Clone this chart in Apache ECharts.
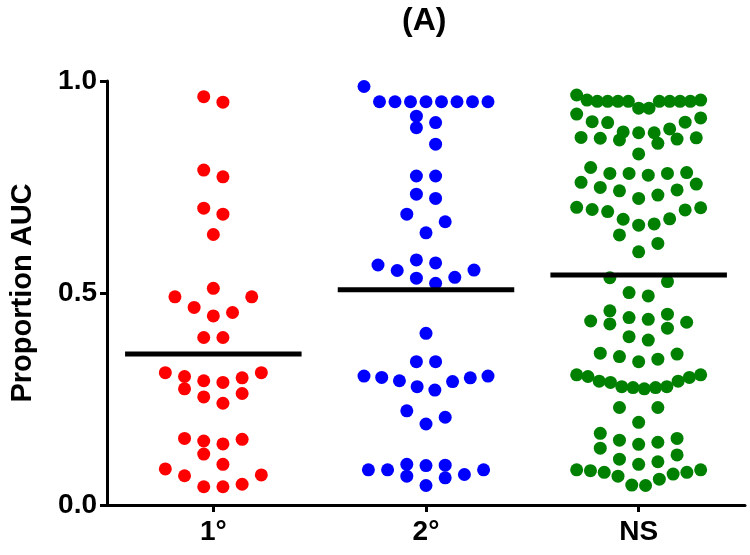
<!DOCTYPE html>
<html>
<head>
<meta charset="utf-8">
<script src="https://cdn.jsdelivr.net/npm/echarts@6/dist/echarts.min.js"></script>
<style>
html, body { margin: 0; padding: 0; background: #ffffff; }
#chart { width: 750px; height: 555px; }
</style>
</head>
<body>
<div id="chart"></div>
<script>
// ---- data ----
const chartTitle = '(A)';
const yAxisName = 'Proportion AUC';
const categories = ['1°', '2°', 'NS'];
const yTicks = [0.0, 0.5, 1.0];

const primaryValues = [0.963, 0.950, 0.790, 0.774, 0.700, 0.686, 0.638, 0.511, 0.491, 0.491,
  0.466, 0.454, 0.446, 0.395, 0.395, 0.312, 0.312, 0.303, 0.300, 0.293, 0.289, 0.274, 0.263,
  0.255, 0.240, 0.157, 0.155, 0.151, 0.144, 0.120, 0.096, 0.085, 0.071, 0.069, 0.049, 0.043, 0.043];

const secondaryValues = [0.987, 0.951, 0.951, 0.951, 0.951, 0.951, 0.951, 0.951, 0.951,
  0.917, 0.902, 0.890, 0.851, 0.776, 0.776, 0.733, 0.723, 0.686, 0.668, 0.642,
  0.578, 0.571, 0.566, 0.554, 0.553, 0.537, 0.535, 0.523, 0.405, 0.338, 0.338,
  0.304, 0.304, 0.301, 0.300, 0.293, 0.291, 0.279, 0.271, 0.222, 0.207, 0.191,
  0.096, 0.094, 0.093, 0.083, 0.083, 0.083, 0.072, 0.068, 0.064, 0.046];

const nsValues = [0.967, 0.955, 0.955, 0.952, 0.952, 0.952, 0.952, 0.952, 0.952, 0.952, 0.952, 0.936, 0.936, 0.922,
  0.913, 0.904, 0.903, 0.902, 0.887, 0.880, 0.878, 0.878, 0.867, 0.866, 0.865, 0.863, 0.861, 0.853, 0.828,
  0.796, 0.784, 0.782, 0.782, 0.782, 0.778, 0.761, 0.757, 0.749, 0.743, 0.741, 0.731, 0.723,
  0.702, 0.701, 0.697, 0.696, 0.692, 0.675, 0.674, 0.663, 0.660, 0.637, 0.617, 0.597,
  0.536, 0.527, 0.501, 0.493,
  0.458, 0.450, 0.442, 0.438, 0.434, 0.431, 0.427, 0.417, 0.397, 0.389,
  0.358, 0.356, 0.350, 0.344, 0.338, 0.307, 0.307,
  0.303, 0.301, 0.292, 0.292, 0.289, 0.279, 0.279, 0.277, 0.277, 0.274,
  0.230, 0.230, 0.195, 0.169, 0.157, 0.153, 0.148, 0.143, 0.134,
  0.118, 0.108, 0.102, 0.096, 0.083, 0.083, 0.081, 0.077, 0.077, 0.073, 0.068, 0.061, 0.047, 0.046];

// ---- styling / layout ----
const groups = [primaryValues, secondaryValues, nsValues];
const colors = ['#ff0000', '#0000ff', '#008000'];
const FONT = "'Liberation Sans', Arial, Helvetica, sans-serif";
const DOT = 13;          // dot diameter (px)
const ROW_H = 19.6;      // vertical extent of one swarm row (px)
const STEP = 19.2;       // horizontal spacing of dots in a row (px)
const HALF_W = 62;       // max half width of a swarm (px)
const MEAN_HALF = 0.415; // half length of mean bar (category units)

const chart = echarts.init(document.getElementById('chart'), null, { renderer: 'canvas' });

const baseOption = {
  animation: false,
  backgroundColor: '#ffffff',
  grid: { left: 105, right: 5, top: 81, bottom: 50, containLabel: false },
  graphic: [{
    type: 'text', left: 402, top: 5,
    style: { text: chartTitle, font: 'bold 32px ' + FONT, fill: '#000' }
  }],
  xAxis: [{
    type: 'category', data: categories, boundaryGap: true,
    axisLine: { show: true, lineStyle: { color: '#000', width: 3 } },
    axisTick: { show: true, alignWithLabel: true, length: 7, lineStyle: { color: '#000', width: 3 } },
    axisLabel: { color: '#000', fontWeight: 'bold', fontSize: 28, fontFamily: FONT, margin: 13 },
    splitLine: { show: false }
  }, {
    type: 'value', min: 0.5, max: 3.5, show: false
  }],
  yAxis: [{
    type: 'value', min: yTicks[0], max: yTicks[yTicks.length - 1], interval: yTicks[1] - yTicks[0],
    name: yAxisName, nameLocation: 'middle', nameGap: 70,
    nameTextStyle: { color: '#000', fontWeight: 'bold', fontSize: 29, fontFamily: FONT },
    axisLine: { show: true, lineStyle: { color: '#000', width: 3 } },
    axisTick: { show: true, length: 7, lineStyle: { color: '#000', width: 3 } },
    axisLabel: { color: '#000', fontWeight: 'bold', fontSize: 28, fontFamily: FONT, margin: 10,
      formatter: v => v.toFixed(1) },
    splitLine: { show: false }
  }],
  series: []
};
chart.setOption(baseOption);

// Beeswarm layout (rows of nearby values spread symmetrically around the column centre)
const pxPerUnit = chart.convertToPixel({ xAxisIndex: 1 }, 2) - chart.convertToPixel({ xAxisIndex: 1 }, 1);
function swarm(values, center) {
  const pts = values.map(v => ({ v, py: chart.convertToPixel({ yAxisIndex: 0 }, v) }))
    .sort((a, b) => a.v - b.v);
  const out = [];
  let i = 0;
  while (i < pts.length) {
    let j = i;
    while (j < pts.length && pts[i].py - pts[j].py <= ROW_H) j++;
    const row = pts.slice(i, j);
    const n = row.length;
    const s = n > 1 ? Math.min(STEP, 2 * HALF_W / (n - 1)) : 0;
    row.forEach((p, k) => {
      let slot;
      if (n % 2) slot = k === 0 ? 0 : Math.ceil(k / 2) * (k % 2 ? 1 : -1);
      else slot = (Math.floor(k / 2) + 0.5) * (k % 2 ? -1 : 1);
      out.push([center + slot * s / pxPerUnit, p.v]);
    });
    i = j;
  }
  return out;
}

const series = [];
groups.forEach((vals, gi) => {
  const center = gi + 1;
  series.push({
    name: categories[gi], type: 'scatter', xAxisIndex: 1, yAxisIndex: 0,
    symbol: 'circle', symbolSize: DOT, z: 2,
    itemStyle: { color: colors[gi], opacity: 1 },
    data: swarm(vals, center)
  });
  const mean = vals.reduce((a, b) => a + b, 0) / vals.length;
  series.push({
    type: 'line', xAxisIndex: 1, yAxisIndex: 0, symbol: 'none', z: 3, silent: true,
    lineStyle: { color: '#000', width: 5, cap: 'butt' },
    data: [[center - MEAN_HALF, mean], [center + MEAN_HALF, mean]]
  });
});
chart.setOption({ series: series });
</script>
</body>
</html>
